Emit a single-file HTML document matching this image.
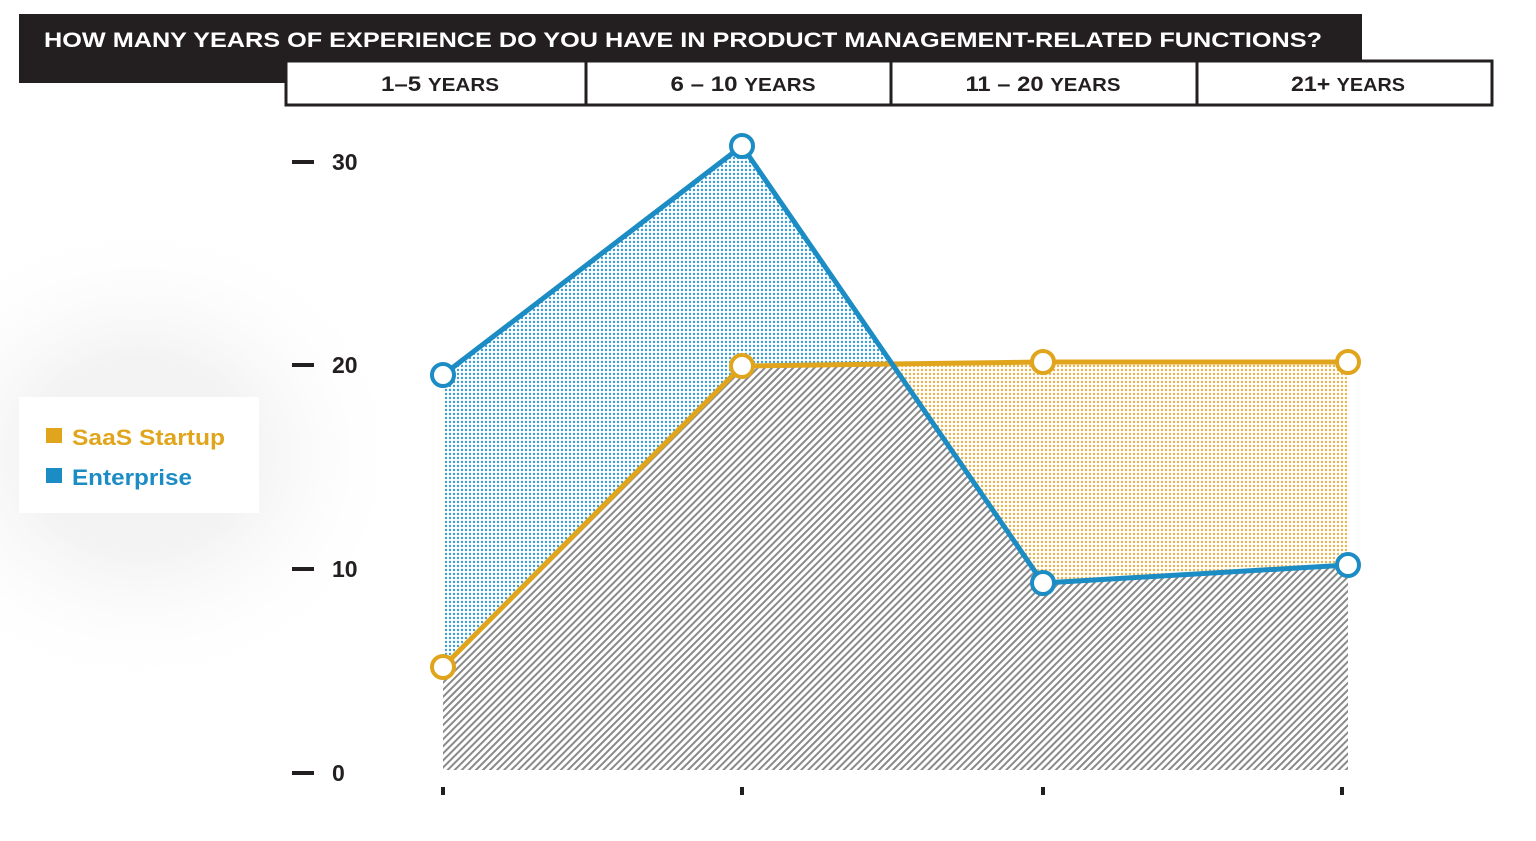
<!DOCTYPE html>
<html><head><style>
body{margin:0;background:#fff;font-family:"Liberation Sans",sans-serif;}
</style></head><body>
<svg width="1536" height="841" xmlns="http://www.w3.org/2000/svg" style="display:block">
<defs>
<pattern id="bd" width="4" height="4" patternUnits="userSpaceOnUse"><circle cx="2" cy="2" r="1.2" fill="#3a9fd3"/></pattern>
<pattern id="yd" width="4" height="4" patternUnits="userSpaceOnUse"><circle cx="2" cy="2" r="1.2" fill="#eab34a"/></pattern>
<pattern id="hh" width="5" height="5" patternUnits="userSpaceOnUse" patternTransform="rotate(45)"><rect width="5" height="5" fill="#fff"/><rect width="2" height="5" fill="#8a8a8a"/></pattern>
<radialGradient id="glow"><stop offset="0.4" stop-color="#f3f3f3"/><stop offset="1" stop-color="#fff" stop-opacity="0"/></radialGradient>
</defs>
<ellipse cx="140" cy="455" rx="270" ry="240" fill="url(#glow)"/>
<rect x="19" y="14" width="1343" height="69" fill="#231f20"/>
<text x="44" y="47" fill="#fff" font-size="21" font-weight="bold" textLength="1278" lengthAdjust="spacingAndGlyphs">HOW MANY YEARS OF EXPERIENCE DO YOU HAVE IN PRODUCT MANAGEMENT-RELATED FUNCTIONS?</text>
<rect x="286" y="61" width="1206" height="44" fill="#fff" stroke="#231f20" stroke-width="3"/>
<g stroke="#231f20" stroke-width="3"><line x1="586" y1="61" x2="586" y2="105"/><line x1="891" y1="61" x2="891" y2="105"/><line x1="1197" y1="61" x2="1197" y2="105"/></g>
<g font-size="21" font-weight="bold" fill="#231f20" text-anchor="middle">
<text x="440" y="91" textLength="118" lengthAdjust="spacingAndGlyphs">1–5 <tspan font-size="18">YEARS</tspan></text>
<text x="743" y="91" textLength="145" lengthAdjust="spacingAndGlyphs">6 – 10 <tspan font-size="18">YEARS</tspan></text>
<text x="1043" y="91" textLength="155" lengthAdjust="spacingAndGlyphs">11 – 20 <tspan font-size="18">YEARS</tspan></text>
<text x="1348" y="91" textLength="114" lengthAdjust="spacingAndGlyphs">21+ <tspan font-size="18">YEARS</tspan></text>
</g>
<g fill="#231f20" font-size="23" font-weight="bold">
<rect x="292" y="160" width="22" height="4"/><text x="332" y="170">30</text>
<rect x="292" y="363" width="22" height="4"/><text x="332" y="373">20</text>
<rect x="292" y="567" width="22" height="4"/><text x="332" y="577">10</text>
<rect x="292" y="771" width="22" height="4"/><text x="332" y="781">0</text>
<rect x="441" y="787" width="4" height="8"/><rect x="740" y="787" width="4" height="8"/><rect x="1041" y="787" width="4" height="8"/><rect x="1340" y="787" width="4" height="8"/>
</g>
<polygon points="443,375 742,146 1043,583 1348,565 1348,770 443,770" fill="url(#bd)"/>
<polygon points="892,364 1043,362 1348,362 1348,565 1043,583" fill="url(#yd)"/>
<polygon points="443,667 742,366 892,364 1043,583 1348,565 1348,770 443,770" fill="url(#hh)"/>
<polyline points="443,667 742,366 1043,362 1348,362" fill="none" stroke="#e0a51c" stroke-width="5"/>
<polyline points="443,375 742,146 1043,583 1348,565" fill="none" stroke="#1c8cc4" stroke-width="5"/>
<g fill="#fff" stroke="#e0a51c" stroke-width="4"><circle cx="443" cy="667" r="11"/><circle cx="742" cy="366" r="11"/><circle cx="1043" cy="362" r="11"/><circle cx="1348" cy="362" r="11"/></g>
<g fill="#fff" stroke="#1c8cc4" stroke-width="4"><circle cx="443" cy="375" r="11"/><circle cx="742" cy="146" r="11"/><circle cx="1043" cy="583" r="11"/><circle cx="1348" cy="565" r="11"/></g>
<rect x="19" y="397" width="240" height="116" fill="#fff"/>
<rect x="46" y="428" width="16" height="15" fill="#e0a51c"/>
<text x="72" y="445" fill="#e0a51c" font-size="22" font-weight="bold" textLength="153" lengthAdjust="spacingAndGlyphs">SaaS Startup</text>
<rect x="46" y="468" width="16" height="15" fill="#1c8cc4"/>
<text x="72" y="485" fill="#1c8cc4" font-size="22" font-weight="bold" textLength="120" lengthAdjust="spacingAndGlyphs">Enterprise</text>
</svg>
</body></html>
